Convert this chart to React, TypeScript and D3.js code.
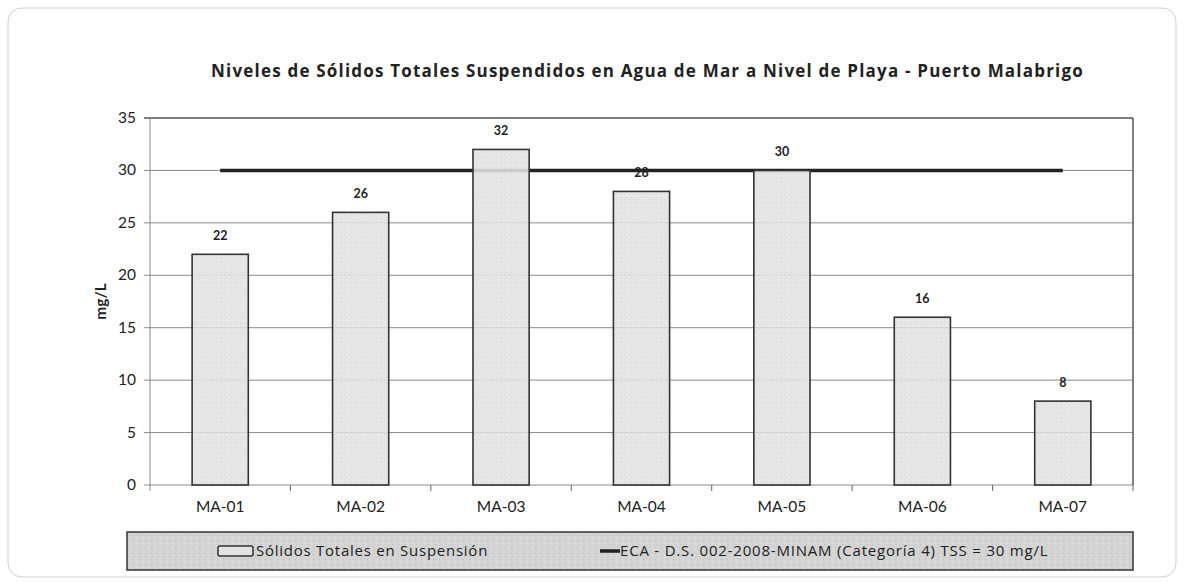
import React from "react";
import * as d3 from "d3";

const categories = ["MA-01", "MA-02", "MA-03", "MA-04", "MA-05", "MA-06", "MA-07"];
const tssValues = [22, 26, 32, 28, 30, 16, 8];
const ecaLimit = [30, 30, 30, 30, 30, 30, 30];
const yTicks = [0, 5, 10, 15, 20, 25, 30, 35];
const title = "Niveles de Sólidos Totales Suspendidos en Agua de Mar a Nivel de Playa - Puerto Malabrigo";
const seriesBarName = "Sólidos Totales en Suspensión";
const seriesLineName = "ECA - D.S. 002-2008-MINAM (Categoría 4) TSS = 30 mg/L";

const W = 1184;
const H = 583;
const plot = { left: 150, right: 1133, top: 118, bottom: 485 };
const FONT = "Lato, 'Open Sans', sans-serif";
const WIDE = "'Open Sans', Lato, sans-serif";

export default function App() {
  const x = d3.scaleBand<string>().domain(categories).range([plot.left, plot.right]).paddingInner(0.6).paddingOuter(0.3);
  const xc = d3.scaleBand<string>().domain(categories).range([plot.left, plot.right]);
  const y = d3.scaleLinear().domain([0, 35]).range([plot.bottom, plot.top]);
  const line = d3
    .line<number>()
    .x((_, i) => (xc(categories[i]) as number) + xc.bandwidth() / 2)
    .y((d) => y(d));

  const legend = { left: 127, right: 1133, top: 532, bottom: 570 };
  const legMid = (legend.top + legend.bottom) / 2;

  return (
    <svg width={W} height={H} style={{ position: "absolute", left: 0, top: 0, background: "#fff" }} fontFamily={FONT}>
      <defs>
        <pattern id="noise" width="6" height="6" patternUnits="userSpaceOnUse">
          <rect width="6" height="6" fill="#d4d4d4" />
          <rect x="1" y="1" width="1" height="1" fill="#bdbdbd" />
          <rect x="4" y="3" width="1" height="1" fill="#e6e6e6" />
          <rect x="2" y="4" width="1" height="1" fill="#c4c4c4" />
        </pattern>
        <pattern id="barnoise" width="5" height="5" patternUnits="userSpaceOnUse">
          <rect width="5" height="5" fill="#e2e2e2" />
          <rect x="1" y="2" width="1" height="1" fill="#cfcfcf" />
          <rect x="3" y="0" width="1" height="1" fill="#ececec" />
          <rect x="4" y="4" width="1" height="1" fill="#d6d6d6" />
        </pattern>
      </defs>
      <rect x={8} y={8} width={W - 16} height={H - 14} rx={14} fill="#fff" stroke="#cfcfcf" strokeWidth={1} />
      <text x={211} y={77} fontFamily={WIDE} fontSize={17} letterSpacing={1.2} fontWeight="bold" fill="#222">
        {title}
      </text>

      {/* gridlines */}
      {yTicks.map((t) => (
        <line key={t} x1={plot.left - 6} x2={plot.right} y1={y(t)} y2={y(t)} stroke={t === 35 ? "#555" : "#8a8a8a"} strokeWidth={t === 35 ? 1.5 : 1} />
      ))}
      {/* axes */}
      <line x1={plot.left} x2={plot.left} y1={plot.top} y2={plot.bottom + 6} stroke="#888" strokeWidth={1} />
      <line x1={plot.right} x2={plot.right} y1={plot.top} y2={plot.bottom} stroke="#555" strokeWidth={1.5} />
      {categories.map((c) => (
        <line key={c} x1={(xc(c) as number) + xc.bandwidth()} x2={(xc(c) as number) + xc.bandwidth()} y1={plot.bottom} y2={plot.bottom + 6} stroke="#666" />
      ))}

      {yTicks.map((t) => (
        <text key={t} x={136} y={y(t) + 5} textAnchor="end" fontSize={15.5} fill="#222">
          {t}
        </text>
      ))}
      <text transform={`translate(106,${(plot.top + plot.bottom) / 2}) rotate(-90)`} textAnchor="middle" fontSize={15.5} fontWeight="bold" fill="#222">
        mg/L
      </text>

      {/* ECA line */}
      <path d={line(ecaLimit) as string} fill="none" stroke="#222" strokeWidth={3.5} />

      {/* bars */}
      {tssValues.map((v, i) => {
        const bx = x(categories[i]) as number;
        return (
          <g key={i}>
            <rect x={bx} y={y(v)} width={x.bandwidth()} height={y(0) - y(v)} fill="url(#barnoise)" fillOpacity={0.88} stroke="#333" strokeWidth={1.6} />
            <text x={bx + x.bandwidth() / 2} y={y(v) - 14} textAnchor="middle" fontSize={12.5} fontWeight="bold" fill="#222">
              {v}
            </text>
          </g>
        );
      })}

      {categories.map((c) => (
        <text key={c} x={(xc(c) as number) + xc.bandwidth() / 2} y={512} textAnchor="middle" fontSize={15.5} fill="#222">
          {c}
        </text>
      ))}

      {/* legend */}
      <rect x={legend.left} y={legend.top} width={legend.right - legend.left} height={legend.bottom - legend.top} fill="url(#noise)" stroke="#333" strokeWidth={1.5} />
      <rect x={218} y={legMid - 5} width={35} height={10} rx={2} fill="#e2e2e2" stroke="#333" strokeWidth={1.5} />
      <text x={256} y={legMid + 5} fontFamily={WIDE} fontSize={15} letterSpacing={0.75} fill="#222">
        {seriesBarName}
      </text>
      <line x1={600} x2={620} y1={legMid} y2={legMid} stroke="#222" strokeWidth={3.5} />
      <text x={620} y={legMid + 5} fontFamily={WIDE} fontSize={15} letterSpacing={0.8} fill="#222">
        {seriesLineName}
      </text>
    </svg>
  );
}
